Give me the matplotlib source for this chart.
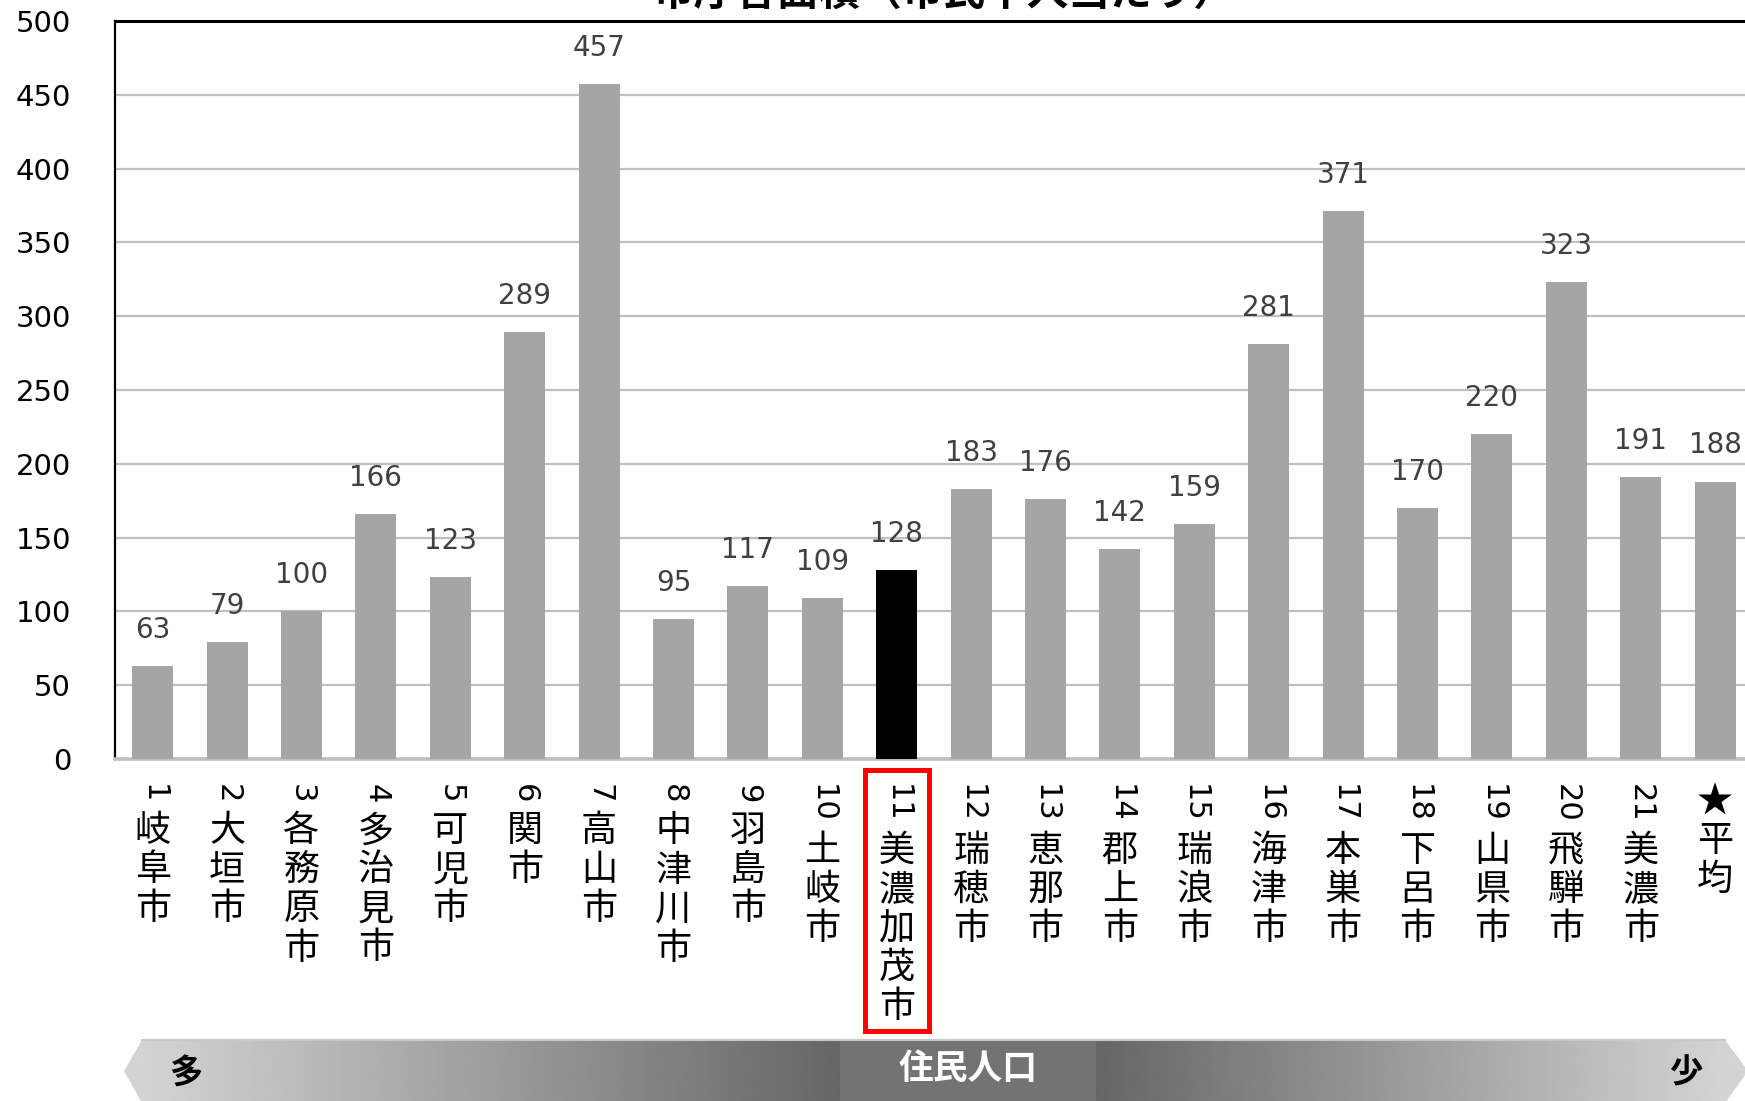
import matplotlib
matplotlib.use('Agg')
import matplotlib.pyplot as plt
from matplotlib.transforms import blended_transform_factory, IdentityTransform
from matplotlib.patches import Polygon, Rectangle
import numpy as np

plt.rcParams['font.family'] = ['Noto Sans CJK JP', 'DejaVu Sans']
NUMFONT = ['DejaVu Sans', 'Noto Sans CJK JP']

W, H = 1745, 1101

# ---- data ----
ranks = ['1', '2', '3', '4', '5', '6', '7', '8', '9', '10', '11', '12', '13', '14',
         '15', '16', '17', '18', '19', '20', '21', '★']
names = ['岐阜市', '大垣市', '各務原市', '多治見市', '可児市', '関市', '高山市', '中津川市',
         '羽島市', '土岐市', '美濃加茂市', '瑞穂市', '恵那市', '郡上市', '瑞浪市', '海津市',
         '本巣市', '下呂市', '山県市', '飛騨市', '美濃市', '平均']
values = [63, 79, 100, 166, 123, 289, 457, 95, 117, 109, 128, 183, 176, 142, 159, 281,
          371, 170, 220, 323, 191, 188]
highlight = '美濃加茂市'
title = '市庁舎面積（市民千人当たり）'
scale_left, scale_mid, scale_right = '多', '住民人口', '少'
yticks = [0, 50, 100, 150, 200, 250, 300, 350, 400, 450, 500]

fig = plt.figure(figsize=(W / 100, H / 100), dpi=100)
step = 74.4
ax_left, ax_top, ax_bottom = 115.5, 21, 759
ax = fig.add_axes([ax_left / W, 1 - ax_bottom / H, len(values) * step / W, (ax_bottom - ax_top) / H])

x = np.arange(len(values))
colors = ['#000000' if n == highlight else '#a5a5a5' for n in names]
ax.bar(x, values, width=0.55, color=colors, zorder=3)
for xi, v in zip(x, values):
    ax.annotate(str(v), (xi, v), xytext=(0, 26), textcoords='offset points',
                ha='center', va='center', fontsize=20, color='#404040', clip_on=False,
                family=NUMFONT)

ax.set_xlim(-0.5, len(values) - 0.5)
ax.set_ylim(0, 500)
ax.set_yticks(yticks)
ax.set_yticklabels([str(t) for t in yticks], family=NUMFONT)
ax.set_xticks([])
ax.tick_params(axis='y', length=0, pad=32, labelsize=21, labelcolor='#000000')
ax.yaxis.grid(True, color='#bfbfbf', lw=1.6, zorder=0)
ax.set_axisbelow(True)
ax.spines['right'].set_visible(False)
ax.spines['left'].set_color('#000000')
ax.spines['left'].set_linewidth(1.6)
ax.spines['top'].set_color('#000000')
ax.spines['top'].set_linewidth(2.2)
ax.spines['bottom'].set_color('#bfbfbf')
ax.spines['bottom'].set_linewidth(2.6)

# ---- vertical category labels ----
renderer = fig.canvas.get_renderer()
trans = blended_transform_factory(ax.transData, IdentityTransform())
top0 = H - 784
pitch = 39
for i, (r, n) in enumerate(zip(ranks, names)):
    y = top0
    if r.isdigit():
        t = ax.text(i, y, r, rotation=-90, ha='center', va='top', transform=trans,
                    fontsize=22, clip_on=False, family=NUMFONT)
        bb = t.get_window_extent(renderer)
        y = bb.y0 - 10
        chars = list(n)
    else:
        chars = [r] + list(n)
    for ch in chars:
        ax.text(i, y, ch, ha='center', va='top', transform=trans, fontsize=26, clip_on=False)
        y -= pitch

hi = names.index(highlight)
ax.add_patch(Rectangle((hi - 0.43, H - 1031), 0.86, 1031 - 770, transform=trans,
                       fill=False, edgecolor='#ff0000', lw=3.6, clip_on=False, zorder=5))

# ---- title (clipped at top) ----
fig.text(944 / W, (H - 6) / H, title, ha='center', va='baseline', fontsize=30,
         fontweight='bold', color='#000000')

# ---- bottom population arrow band ----
bg = fig.add_axes([0, 0, 1, 1])
bg.set_xlim(0, W)
bg.set_ylim(0, H)
bg.axis('off')
bg.patch.set_alpha(0)
poly = Polygon([(142, 61), (1725, 61), (1748, 30), (1725, -2), (142, -2), (124, 30)],
               closed=True, facecolor='none', edgecolor='none')
bg.add_patch(poly)
cols = np.arange(W)
shade = np.interp(cols, [142, 840, 1096, 1725], [0.83, 0.40, 0.40, 0.83])
img = np.tile(shade, (2, 1))
im = bg.imshow(img, cmap='gray', vmin=0, vmax=1, extent=(0, W, -2, 61), aspect='auto',
               interpolation='bilinear')
im.set_clip_path(poly)
bg.add_patch(Rectangle((840, -2), 256, 63, facecolor='#737373', edgecolor='none'))
bg.plot([142, 1725], [61, 61], color='#c8c8c8', lw=1.5)
bg.text(186, 28, scale_left, ha='center', va='center', fontsize=24, fontweight='bold', color='#000000')
bg.text(1686, 28, scale_right, ha='center', va='center', fontsize=24, fontweight='bold', color='#000000')
bg.text(968, 32, scale_mid, ha='center', va='center', fontsize=25, fontweight='bold', color='#ffffff')

fig.savefig('out.png', dpi=100)
